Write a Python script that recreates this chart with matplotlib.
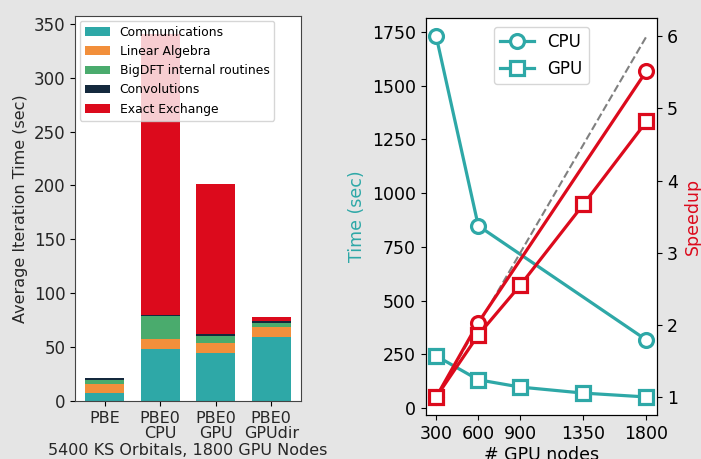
import matplotlib
matplotlib.use("Agg")
import matplotlib.pyplot as plt
import numpy as np

# ---- left panel data ----
categories = ["PBE", "PBE0\nCPU", "PBE0\nGPU", "PBE0\nGPUdir"]
components = ["Communications", "Linear Algebra", "BigDFT internal routines",
              "Convolutions", "Exact Exchange"]
communications = [7.0, 48.5, 44.7, 59.0]
linear_algebra = [9.2, 9.4, 9.3, 9.3]
bigdft_internal = [3.5, 20.8, 6.2, 3.7]
convolutions = [2.1, 1.5, 2.2, 1.9]
exact_exchange = [0.0, 260.0, 139.0, 4.4]
comp_colors = ["#2ea8a7", "#f28f3b", "#4aab6d", "#14293d", "#dc0a1c"]

# ---- right panel data ----
cpu_nodes = [300, 600, 1800]
cpu_time = [1730, 848, 316]
gpu_nodes = [300, 600, 900, 1350, 1800]
gpu_time = [242, 131, 97, 69, 51]
cpu_speedup = [1.0, 2.03, 5.52]
gpu_speedup = [1.0, 1.86, 2.55, 3.67, 4.82]
ideal_nodes = [300, 1800]
ideal_speedup = [1.0, 6.0]
node_ticks = [300, 600, 900, 1350, 1800]

teal = "#2ea8a7"
red = "#dc0a1c"

fig = plt.figure(figsize=(7.01, 4.59), dpi=100)
fig.patch.set_facecolor("#e5e5e5")

# ---------- left panel ----------
axL = fig.add_axes([75/701, 58/459, 226/701, 385/459])
x = np.arange(len(categories))
bottom = np.zeros(len(categories))
for name, vals, col in zip(components,
                           [communications, linear_algebra, bigdft_internal,
                            convolutions, exact_exchange], comp_colors):
    axL.bar(x, vals, 0.7, bottom=bottom, color=col, label=name)
    bottom += np.array(vals)
axL.set_xticks(x)
axL.set_xticklabels(categories, fontsize=11.5, color="#262626", linespacing=1.05)
axL.tick_params(axis="y", labelsize=12, labelcolor="#262626")
axL.set_ylabel("Average Iteration Time (sec)", fontsize=11.5, color="#262626")
axL.set_xlabel("5400 KS Orbitals, 1800 GPU Nodes", fontsize=11.5,
               color="#262626", labelpad=1)
axL.set_yticks([0, 50, 100, 150, 200, 250, 300, 350])
for s in axL.spines.values():
    s.set_color("#444444")
axL.legend(loc="upper left", fontsize=8.9, handlelength=2.0,
           borderaxespad=0.4)

# ---------- right panel ----------
axR = fig.add_axes([425.7/701, 44/459, 231.3/701, 396.7/459])
axR.plot(cpu_nodes, cpu_time, "-o", color=teal, lw=2.3, ms=10,
         mfc="white", mew=2.3, label="CPU")
axR.plot(gpu_nodes, gpu_time, "-s", color=teal, lw=2.3, ms=10,
         mfc="white", mew=2.3, label="GPU")
axR.set_xticks(node_ticks)
axR.tick_params(labelsize=12.5)
axR.set_ylabel("Time (sec)", color=teal, fontsize=12.5, labelpad=4)
axR.set_xlabel("# GPU nodes", fontsize=12.5, labelpad=2)
axR.legend(loc="upper center", fontsize=12, handlelength=2.0,
           borderaxespad=0.5)

axS = axR.twinx()
axS.plot(ideal_nodes, ideal_speedup, "--", color="grey", lw=1.5)
axS.plot(cpu_nodes, cpu_speedup, "-o", color=red, lw=2.3, ms=10,
         mfc="white", mew=2.3)
axS.plot(gpu_nodes, gpu_speedup, "-s", color=red, lw=2.3, ms=10,
         mfc="white", mew=2.3)
axS.tick_params(labelsize=12.5)
axS.set_ylabel("Speedup", color=red, fontsize=12.5, labelpad=4)

fig.savefig("out.png", dpi=100, facecolor=fig.get_facecolor())
